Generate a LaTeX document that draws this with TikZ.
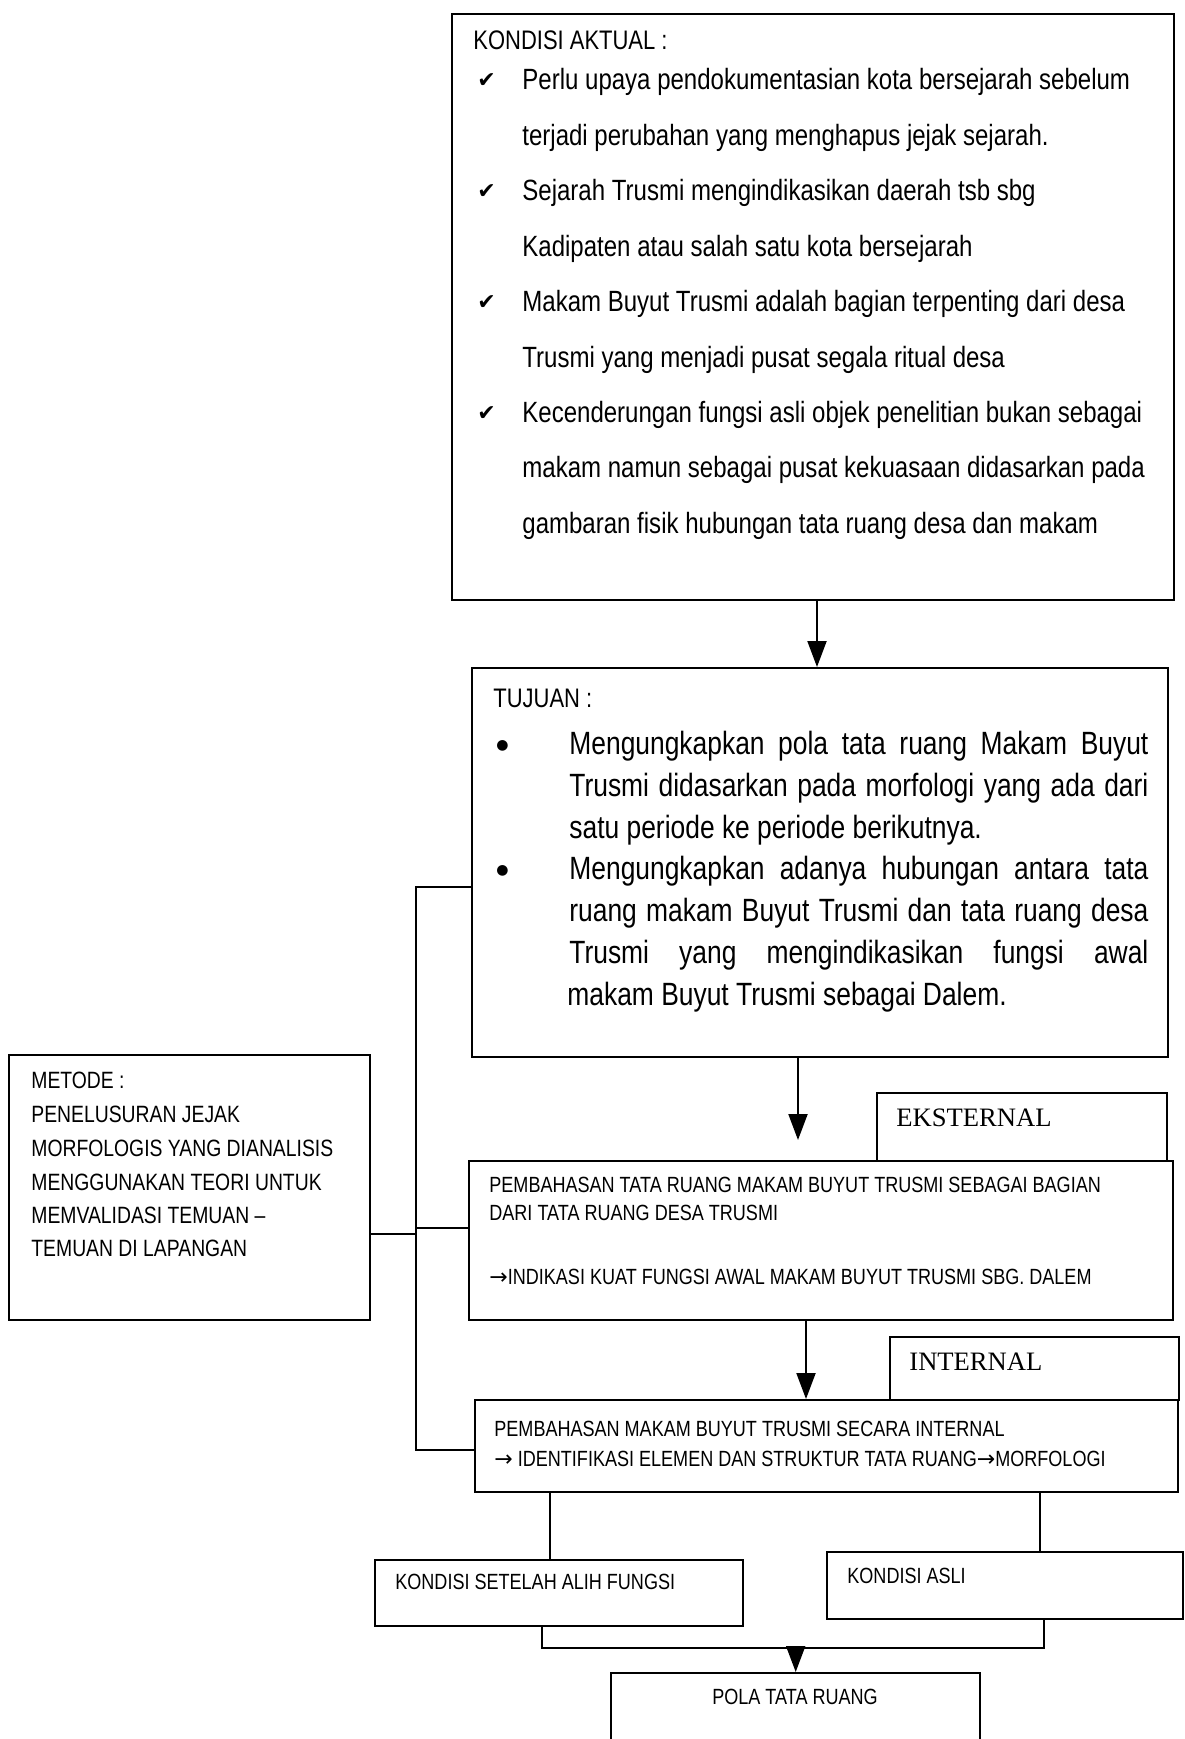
\documentclass[tikz,border=0pt]{standalone}
\usepackage{fontspec}
\setmainfont{Liberation Sans}[FakeStretch=0.82]
\newfontfamily\serifface{Liberation Serif}
\newfontfamily\symface{DejaVu Sans}
\newcommand{\rarr}{{\symface →}}
\usetikzlibrary{arrows.meta}

\begin{document}
\begin{tikzpicture}[x=0.5pt,y=-0.5pt,
  box/.style={draw, line width=1.2pt, anchor=north west, inner sep=0pt},
  txt/.style={anchor=base west, inner sep=0pt},
  link/.style={line width=1pt},
  arr/.style={line width=1pt, -{Triangle[width=9.5pt,length=13pt]}},
  fhead/.style={font=\fontsize{13.4pt}{16pt}\selectfont},
  fbody/.style={font=\fontsize{14.65pt}{17pt}\selectfont},
  fgoal/.style={font=\fontsize{16.1pt}{19pt}\selectfont},
  fmethod/.style={font=\fontsize{11.8pt}{14pt}\selectfont},
  fstep/.style={font=\fontsize{11pt}{13pt}\selectfont},
  ftag/.style={font=\serifface\fontsize{13.3pt}{16pt}\selectfont},
  ftick/.style={font=\symface\fontsize{11pt}{14pt}\selectfont},
  fdot/.style={font=\symface\fontsize{7pt}{9pt}\selectfont},
]
\path[use as bounding box, clip] (0,0) rectangle (1184,1739);
\fill[white] (0,0) rectangle (1184,1739);

% current conditions
\node[box, minimum width=361pt, minimum height=293pt] (kondisi) at (451,13) {};
\node[txt, fhead] (kondisi-title) at (473,50) {KONDISI AKTUAL :};
\node[txt, ftick] (tick1) at (477,88) {✔};
\node[txt, fbody] (k1) at (522,90) {Perlu upaya pendokumentasian kota bersejarah sebelum};
\node[txt, fbody] (k2) at (522,145.4) {terjadi perubahan yang menghapus jejak sejarah.};
\node[txt, ftick] (tick2) at (477,198.8) {✔};
\node[txt, fbody] (k3) at (522,200.8) {Sejarah Trusmi mengindikasikan daerah tsb sbg};
\node[txt, fbody] (k4) at (522,256.2) {Kadipaten atau salah satu kota bersejarah};
\node[txt, ftick] (tick3) at (477,309.6) {✔};
\node[txt, fbody] (k5) at (522,311.6) {Makam Buyut Trusmi adalah bagian terpenting dari desa};
\node[txt, fbody] (k6) at (522,367) {Trusmi yang menjadi pusat segala ritual desa};
\node[txt, ftick] (tick4) at (477,420.4) {✔};
\node[txt, fbody] (k7) at (522,422.4) {Kecenderungan fungsi asli objek penelitian bukan sebagai};
\node[txt, fbody] (k8) at (522,477.8) {makam namun sebagai pusat kekuasaan didasarkan pada};
\node[txt, fbody] (k9) at (522,533.2) {gambaran fisik hubungan tata ruang desa dan makam};

% goals
\node[box, minimum width=348pt, minimum height=194.5pt] (tujuan) at (471,667) {};
\node[txt, fhead] (tujuan-title) at (493,707) {TUJUAN :};
\node[txt, fdot] (dot1) at (496,749) {●};
\node[txt, fgoal] (t1) at (569,754.5) {\makebox[289.5pt][s]{Mengungkapkan pola tata ruang Makam Buyut}};
\node[txt, fgoal] (t2) at (569,796.3) {\makebox[289.5pt][s]{Trusmi didasarkan pada morfologi yang ada dari}};
\node[txt, fgoal] (t3) at (569,838.1) {satu periode ke periode berikutnya.};
\node[txt, fdot] (dot2) at (496,874.4) {●};
\node[txt, fgoal] (t4) at (569,879.9) {\makebox[289.5pt][s]{Mengungkapkan adanya hubungan antara tata}};
\node[txt, fgoal] (t5) at (569,921.7) {\makebox[289.5pt][s]{ruang makam Buyut Trusmi dan tata ruang desa}};
\node[txt, fgoal] (t6) at (569,963.5) {\makebox[289.5pt][s]{Trusmi yang mengindikasikan fungsi awal}};
\node[txt, fgoal] (t7) at (567,1005.3) {makam Buyut Trusmi sebagai Dalem.};

% method
\node[box, minimum width=180.5pt, minimum height=132.5pt] (metode) at (8,1054) {};
\node[txt, fmethod] (m1) at (31,1088) {METODE :};
\node[txt, fmethod] (m2) at (31,1122) {PENELUSURAN JEJAK};
\node[txt, fmethod] (m3) at (31,1156) {MORFOLOGIS YANG DIANALISIS};
\node[txt, fmethod] (m4) at (31,1190) {MENGGUNAKAN TEORI UNTUK};
\node[txt, fmethod] (m5) at (31,1223) {MEMVALIDASI TEMUAN –};
\node[txt, fmethod] (m6) at (31,1256) {TEMUAN DI LAPANGAN};

% external discussion
\node[box, minimum width=145pt, minimum height=34pt] (ekst) at (876,1092) {};
\node[txt, ftag] (ekst-label) at (896,1126) {EKSTERNAL};
\node[box, minimum width=352pt, minimum height=79.5pt] (pemb1) at (468,1160) {};
\node[txt, fstep] (p1a) at (489,1192) {PEMBAHASAN TATA RUANG MAKAM BUYUT TRUSMI SEBAGAI BAGIAN};
\node[txt, fstep] (p1b) at (489,1220) {DARI TATA RUANG DESA TRUSMI};
\node[txt, fstep] (p1c) at (489,1284) {\rarr INDIKASI KUAT FUNGSI AWAL MAKAM BUYUT TRUSMI SBG. DALEM};

% internal discussion
\node[box, minimum width=144.5pt, minimum height=31.5pt] (intern) at (889,1336) {};
\node[txt, ftag] (intern-label) at (909,1370) {INTERNAL};
\node[box, minimum width=351.5pt, minimum height=46pt] (pemb2) at (474,1399) {};
\node[txt, fstep] (p2a) at (494,1436) {PEMBAHASAN MAKAM BUYUT TRUSMI SECARA INTERNAL};
\node[txt, fstep] (p2b) at (494,1466) {\rarr\ IDENTIFIKASI ELEMEN DAN STRUKTUR TATA RUANG\rarr MORFOLOGI};

% outcomes
\node[box, minimum width=184pt, minimum height=33pt] (setelah) at (374,1559) {};
\node[txt, fstep] (setelah-label) at (395,1589) {KONDISI SETELAH ALIH FUNGSI};
\node[box, minimum width=178pt, minimum height=33.5pt] (asli) at (826,1551) {};
\node[txt, fstep] (asli-label) at (847,1583) {KONDISI ASLI};
\node[box, minimum width=184.5pt, minimum height=50pt] (pola) at (610,1672) {};
\node[anchor=base, inner sep=0pt, fstep] (pola-label) at (795,1704) {POLA TATA RUANG};

% connectors
\coordinate (a1) at (817,0);
\coordinate (a2) at (798,0);
\coordinate (a3) at (806,0);
\draw[arr] (kondisi.south -| a1) -- (tujuan.north -| a1);
\draw[arr, shorten >=10pt] (tujuan.south -| a2) -- (pemb1.north -| a2);
\draw[arr] (pemb1.south -| a3) -- (pemb2.north -| a3);

\coordinate (busTop) at (416,887);
\coordinate (busBot) at (416,1450);
\coordinate (busM) at (416,1234);
\coordinate (bus1) at (416,1228);
\draw[link] (tujuan.west |- busTop) -- (busTop) -- (busBot) -- (pemb2.west |- busBot);
\draw[link] (metode.east |- busM) -- (busM);
\draw[link] (bus1) -- (pemb1.west |- bus1);

\coordinate (d1) at (550,0);
\coordinate (d2) at (1040,0);
\draw[link] (pemb2.south -| d1) -- (setelah.north -| d1);
\draw[link] (pemb2.south -| d2) -- (asli.north -| d2);

\coordinate (j1) at (542,1648);
\coordinate (j2) at (1044,1648);
\draw[link] (setelah.south -| j1) -- (j1) -- (j2) -- (asli.south -| j2);
\draw[arr] (pola.north |- j1) -- (pola.north);
\end{tikzpicture}
\end{document}
